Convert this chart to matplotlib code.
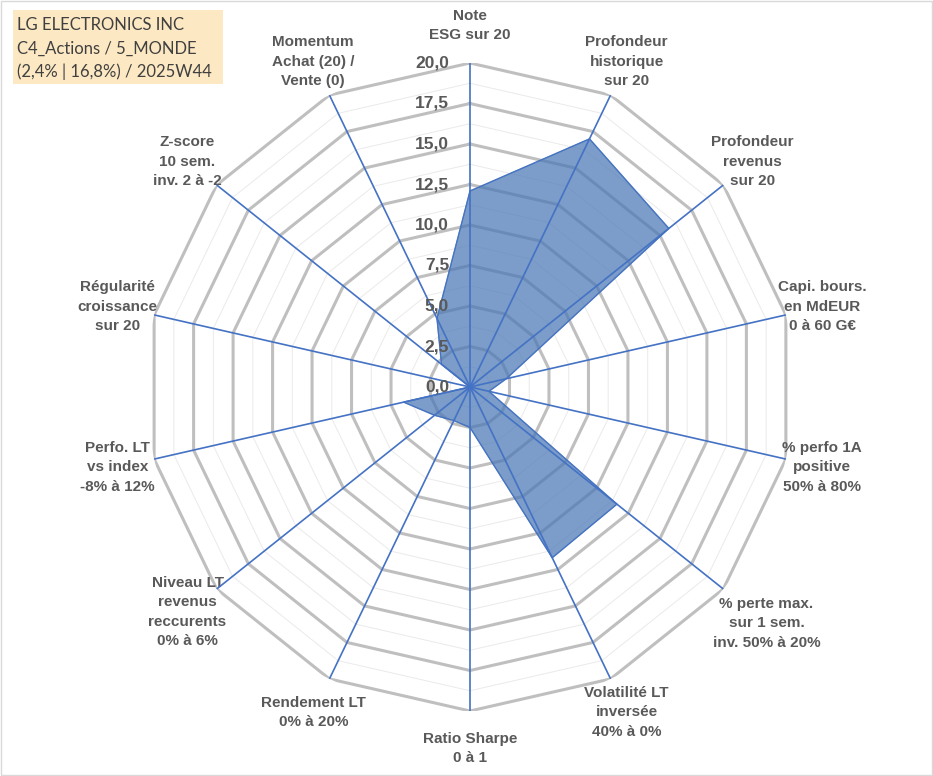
import matplotlib.pyplot as plt
import numpy as np
from matplotlib.patches import Rectangle

# axes of the radar, clockwise from the top
categories = [
    "Note\nESG sur 20",
    "Profondeur\nhistorique\nsur 20",
    "Profondeur\nrevenus\nsur 20",
    "Capi. bours.\nen MdEUR\n0 à 60 G€",
    "% perfo 1A\npositive\n50% à 80%",
    "% perte max.\nsur 1 sem.\ninv. 50% à 20%",
    "Volatilité LT\ninversée\n40% à 0%",
    "Ratio Sharpe\n0 à 1",
    "Rendement LT\n0% à 20%",
    "Niveau LT\nrevenus\nreccurents\n0% à 6%",
    "Perfo. LT\nvs index\n-8% à 12%",
    "Régularité\ncroissance\nsur 20",
    "Z-score\n10 sem.\ninv. 2 à -2",
    "Momentum\nAchat (20) /\nVente (0)",
]
values = [12.1, 17.0, 15.7, 2.3, 1.2, 11.6, 11.7, 2.5, 2.3, 2.8, 4.2, 0.0, 2.25, 4.7]

major_ticks = [0, 2.5, 5, 7.5, 10, 12.5, 15, 17.5, 20]
tick_labels = ["0,0", "2,5", "5,0", "7,5", "10,0", "12,5", "15,0", "17,5", "20,0"]
minor_ticks = [1.25, 3.75, 6.25, 8.75, 11.25, 13.75, 16.25, 18.75]

title_lines = ["LG ELECTRONICS INC", "C4_Actions / 5_MONDE", "(2,4% | 16,8%) / 2025W44"]

plt.rcParams['font.family'] = ['Liberation Sans', 'DejaVu Sans']

fig = plt.figure(figsize=(9.33, 7.76), dpi=100)

# polar axes centred at (470, 387) px with radius 324 px
cx, cy, R = 470 / 933, 1 - 387 / 776, 324
ax = fig.add_axes([cx - R / 933, cy - R / 776, 2 * R / 933, 2 * R / 776], projection='polar')
ax.set_theta_zero_location('N')
ax.set_theta_direction(-1)
ax.set_ylim(0, 20)
ax.axis('off')

n = len(categories)
theta = np.linspace(0, 2 * np.pi, n, endpoint=False)
theta_closed = np.append(theta, theta[0])

# polygon grid
for r in minor_ticks:
    ax.plot(theta_closed, [r] * (n + 1), color='#EAEAEA', lw=0.7, zorder=1)
for r in major_ticks[1:]:
    ax.plot(theta_closed, [r] * (n + 1), color='#BFBFBF', lw=2.2, zorder=1)

# data
vals = values + values[:1]
ax.fill(theta_closed, vals, color='#4A78B5', alpha=0.72, zorder=2)
ax.plot(theta_closed, vals, color='#4472C4', lw=0.8, zorder=3)

# spokes
for t in theta:
    ax.plot([t, t], [0, 20], color='#4472C4', lw=1.2, zorder=4)

# radial tick labels
for r, lab in zip(major_ticks, tick_labels):
    ax.annotate(lab, xy=(0, r), xytext=(-15, 0), textcoords='offset points',
                ha='right', va='center', fontsize=12.5, fontweight='bold',
                color='#595959', zorder=5, annotation_clip=False)

# category labels (the wide one sits a bit further out)
for i, (t, lab) in enumerate(zip(theta, categories)):
    lr = 23.4 if i == 5 else 22.3
    ax.text(t, lr, lab, ha='center', va='center', fontsize=11, fontweight='bold',
            color='#595959', linespacing=1.5, clip_on=False)

# title box
fig.patches.append(Rectangle((13 / 933, 1 - 84 / 776), 210 / 933, 74 / 776,
                             transform=fig.transFigure, facecolor='#FCE8C2',
                             edgecolor='none', zorder=0))
for i, line in enumerate(title_lines):
    fig.text(17 / 933, 1 - (25 + 23.5 * i) / 776, line, ha='left', va='center',
             fontsize=12, color='#404040', family=['Lato', 'DejaVu Sans'])

# chart border
fig.patches.append(Rectangle((0.001, 0.001), 0.998, 0.998, transform=fig.transFigure,
                             fill=False, edgecolor='#D9D9D9', lw=1))

fig.savefig('out.png', dpi=100)
